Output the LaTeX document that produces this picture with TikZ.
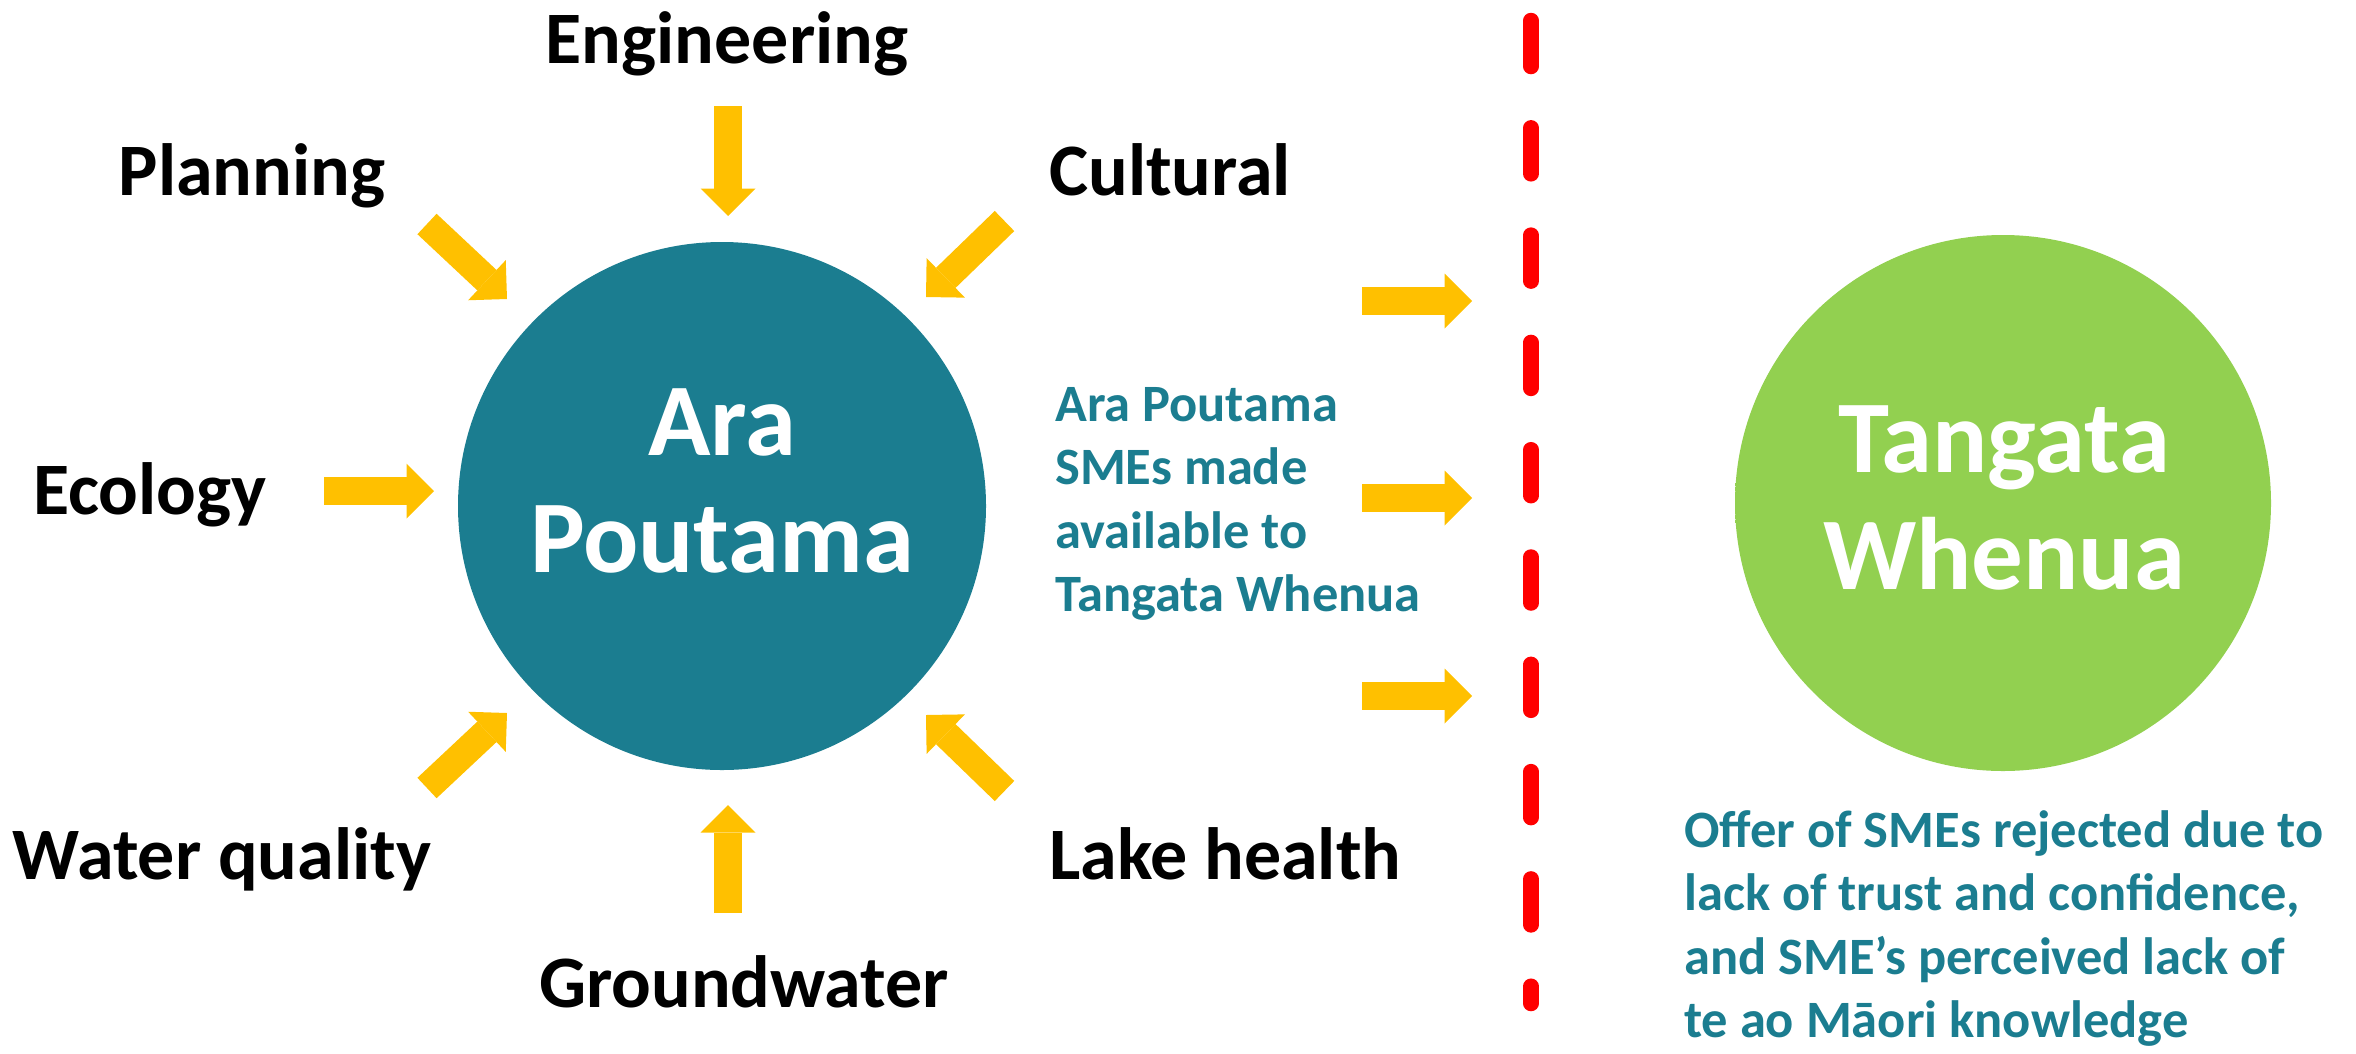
\documentclass[tikz,border=0pt]{standalone}
\usepackage{fontspec}
\setmainfont{Carlito}
\usetikzlibrary{arrows.meta}
\definecolor{tealc}{RGB}{27,125,144}
\definecolor{tgreen}{RGB}{146,208,80}
\definecolor{goldc}{RGB}{255,192,0}
\definecolor{redc}{RGB}{255,0,0}
\pgfdeclareradialshading{softgreen}{\pgfpoint{0bp}{0bp}}{color(0bp)=(tgreen); color(45.5bp)=(tgreen); color(50bp)=(white)}
\begin{document}
\begin{tikzpicture}[x=1pt,y=-1pt,
  lbl/.style={font=\fontsize{74}{89}\selectfont\bfseries, text=black, inner sep=0pt},
  bigtxt/.style={font=\fontsize{103}{117}\selectfont\bfseries, text=white, inner sep=0pt},
  smetxt/.style={font=\fontsize{52.5}{63.5}\selectfont\bfseries, text=tealc, inner sep=0pt},
  feed/.style={draw=goldc, line width=28pt, -{Triangle[width=55pt,length=27.5pt,line width=0pt]}},
  divider/.style={draw=redc, line width=15.5pt, line cap=round, dash pattern=on 46pt off 61.3pt}
]
\useasboundingbox (0,0) rectangle (2356,1053);
% circles
\node[circle, fill=tealc, minimum size=528pt, inner sep=0pt] (ara) at (722,506) {};
\node[circle, minimum size=536pt, inner sep=0pt, shading=softgreen] (tw) at (2003,503) {};
% circle texts
\node[bigtxt, anchor=base] (aratxt) at (722,455) {\begin{tabular}[t]{@{}c@{}}Ara\\Poutama\end{tabular}};
\node[bigtxt, anchor=base] (twtxt) at (2004,472) {\begin{tabular}[t]{@{}c@{}}Tangata\\Whenua\end{tabular}};
% labels
\node[lbl, anchor=base] (eng) at (727,63) {Engineering};
\node[lbl, anchor=base] (plan) at (252,195) {Planning};
\node[lbl, anchor=base west] (cult) at (1049,195) {Cultural};
\node[lbl, anchor=base] (eco) at (150,514) {Ecology};
\node[lbl, anchor=base] (wq) at (222,879) {Water quality};
\node[lbl, anchor=base west] (lake) at (1049,879) {Lake health};
\node[lbl, anchor=base] (gw) at (744,1007) {Groundwater};
% teal texts
\node[smetxt, anchor=base west] (sme) at (1055,421) {\begin{tabular}[t]{@{}l@{}}Ara Poutama\\SMEs made\\available to\\Tangata Whenua\end{tabular}};
\node[smetxt, anchor=base west] (offer) at (1684,847) {\begin{tabular}[t]{@{}l@{}}Offer of SMEs rejected due to\\lack of trust and confidence,\\and SME’s perceived lack of\\te ao Māori knowledge\end{tabular}};
% arrow end points
\coordinate (engA) at (728,106);   \coordinate (engB) at (728,216);
\coordinate (planA) at (427,224);  \coordinate (planB) at (507,299);
\coordinate (cultA) at (1004.5,221); \coordinate (cultB) at (926,297);
\coordinate (ecoA) at (324,491);   \coordinate (ecoB) at (434,491);
\coordinate (wqA) at (427,788);    \coordinate (wqB) at (507,713);
\coordinate (lakeA) at (1004.5,791); \coordinate (lakeB) at (926,715);
\coordinate (gwA) at (728,913);    \coordinate (gwB) at (728,805);
\coordinate (r1A) at (1362,301);   \coordinate (r1B) at (1472,301);
\coordinate (r2A) at (1362,498);   \coordinate (r2B) at (1472,498);
\coordinate (r3A) at (1362,696);   \coordinate (r3B) at (1472,696);
\foreach \a in {eng,plan,cult,eco,wq,lake,gw,r1,r2,r3}
  \draw[feed] (\a A) -- (\a B);
% divider
\coordinate (dTop) at (1531,20.5);
\coordinate (dBot) at (1531,1003.5);
\draw[divider] (dTop) -- (dBot);
\end{tikzpicture}
\end{document}
